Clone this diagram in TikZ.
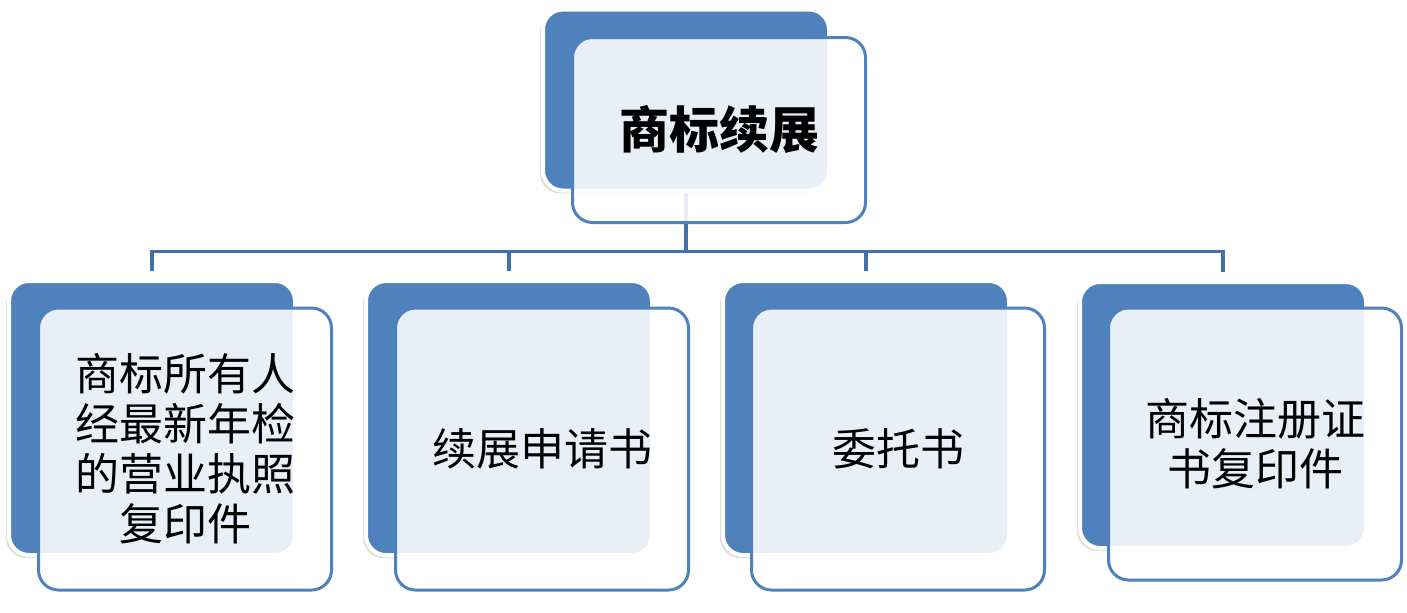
\documentclass[tikz,border=0pt]{standalone}
\usepackage{fontspec}
\newfontfamily\cjk{Noto Sans CJK SC}
\usetikzlibrary{shadows}
\definecolor{boxblue}{HTML}{4F81BD}
\definecolor{linkblue}{HTML}{4270A8}
\begin{document}
\begin{tikzpicture}[x=0.5pt,y=-0.5pt,
  backbox/.style={rounded corners=10pt,fill=boxblue,draw=white,line width=2pt,
    minimum width=143pt,drop shadow={shadow xshift=-1.5pt,shadow yshift=-1.5pt,opacity=0.25}},
  frontbox/.style={rounded corners=10pt,draw=boxblue,line width=1.5pt,fill=white,
    fill opacity=0.88,text opacity=1,minimum width=146.5pt,align=center,
    font=\cjk\fontsize{22}{25}\selectfont},
  link/.style={draw=linkblue,line width=1.8pt}]

\useasboundingbox (0,0) rectangle (1407,612);

% back boxes
\node[backbox,minimum height=90.5pt] (topback) at (686,100) {};
\foreach \i/\y/\h in {1/418/137pt,2/418/137pt,3/418/137pt,4/415/133pt}
  \node[backbox,minimum height=\h] (back\i) at ({152+357*(\i-1)},\y) {};

% links
\foreach \i in {1,...,4}
  \draw[link,shorten >=4pt] (topback.south) -- ++(0,59) -| (back\i.north);

% front boxes
\node[frontbox,minimum height=92.5pt,font=\cjk\bfseries\fontsize{25}{28}\selectfont] (top) at (719,130) {商标续展};
\node[frontbox,minimum height=141pt] (doc1) at (185,449) {商标所有人\\经最新年检\\的营业执照\\复印件};
\node[frontbox,minimum height=141pt] (doc2) at (542,449) {续展申请书};
\node[frontbox,minimum height=141pt] (doc3) at (898,449) {委托书};
\node[frontbox,minimum height=136pt] (doc4) at (1255,444) {商标注册证\\书复印件};

\end{tikzpicture}
\end{document}
